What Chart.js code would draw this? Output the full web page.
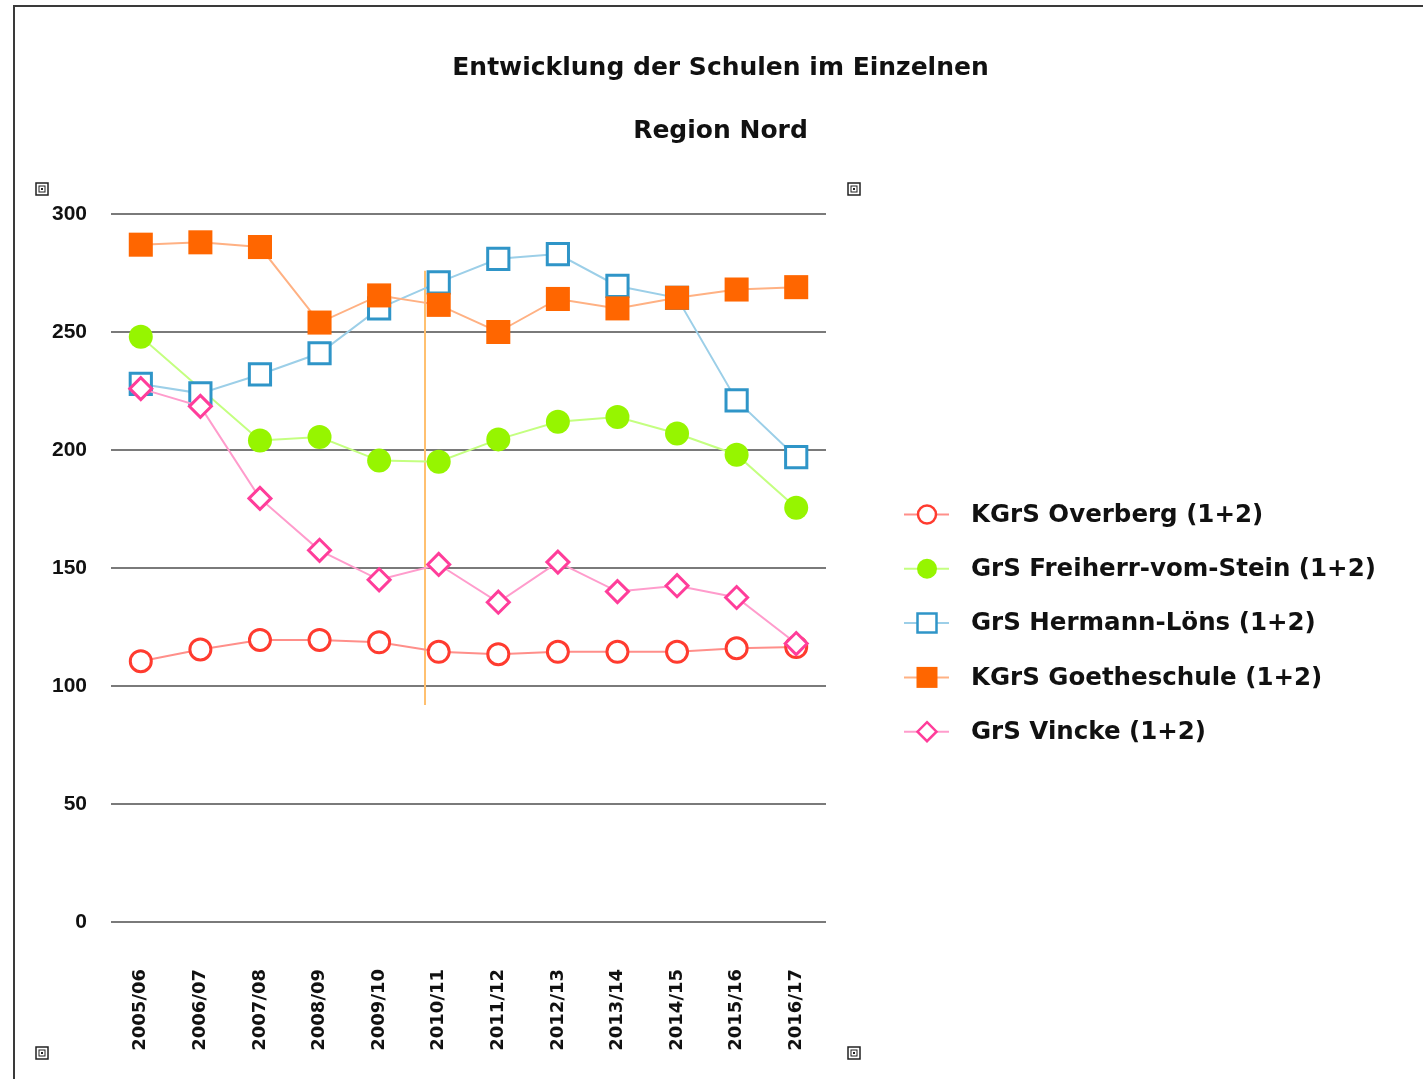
<!DOCTYPE html>
<html lang="de">
<head>
<meta charset="utf-8">
<title>Entwicklung der Schulen im Einzelnen</title>
<script src="https://cdn.jsdelivr.net/npm/chart.js@4.4.1/dist/chart.umd.min.js"></script>
<style>
  html, body { margin: 0; padding: 0; background: #fff; }
  body { width: 1423px; height: 1079px; position: relative; overflow: hidden; }
  .frame { position: absolute; left: 13px; top: 5px; width: 1500px; height: 1200px; border: 2px solid #3a3a3a; }
  .wrap { position: absolute; left: 0; top: 0; width: 1423px; height: 1079px; }
</style>
</head>
<body>
<div class="frame"></div>
<div class="wrap"><canvas id="chart"></canvas></div>
<script>
const chartTitle = "Entwicklung der Schulen im Einzelnen";
const chartSubtitle = "Region Nord";

const schoolYears = ["2005/06", "2006/07", "2007/08", "2008/09", "2009/10", "2010/11",
  "2011/12", "2012/13", "2013/14", "2014/15", "2015/16", "2016/17"];

const seriesNames = ["KGrS Overberg (1+2)", "GrS Freiherr-vom-Stein (1+2)",
  "GrS Hermann-Löns (1+2)", "KGrS Goetheschule (1+2)", "GrS Vincke (1+2)"];

const overberg = [110.5, 115.5, 119.5, 119.5, 118.5, 114.5, 113.5, 114.5, 114.5, 114.5, 116, 116.5];
// 2006/07 is not visible in the picture, the line runs straight over it
const freiherrVomStein = [248, null, 204, 205.5, 195.5, 195, 204.5, 212, 214, 207, 198, 175.5];
const hermannLoens = [228, 224, 232, 241, 260, 271, 281, 283, 269.5, 264.5, 221, 197];
const goetheschule = [287, 288, 286, 254, 265.5, 261.5, 250, 264, 260, 264.5, 268, 269];
const vincke = [226, 218.5, 179.5, 157.5, 145, 151.5, 135.5, 152.5, 140, 142.5, 137.5, 118];

const yMin = 0;
const yMax = 300;
const yStep = 50;

// orange cursor line between 2009/10 and 2010/11 (category index, value range)
const cursorLine = { at: 4.77, from: 276, to: 92 };

const tickFont = { family: "'Liberation Sans', Arial, sans-serif", size: 21, weight: "bold" };
const textFont = { family: "'DejaVu Sans', sans-serif", weight: "bold" };

const datasets = [
  { label: seriesNames[0], data: overberg, order: 4,
    borderColor: "#ff8f8a", backgroundColor: "#ffffff",
    pointStyle: "circle", pointRadius: 10.5, pointBorderWidth: 3,
    pointBorderColor: "#ff3b2f", pointBackgroundColor: "#ffffff" },
  { label: seriesNames[1], data: freiherrVomStein, order: 3, spanGaps: true,
    borderColor: "#c4ff80", backgroundColor: "#96f500",
    pointStyle: "circle", pointRadius: 12, pointBorderWidth: 0,
    pointBorderColor: "#96f500", pointBackgroundColor: "#96f500" },
  { label: seriesNames[2], data: hermannLoens, order: 2,
    borderColor: "#9ccfe8", backgroundColor: "#ffffff",
    pointStyle: "rect", pointRadius: 15, pointBorderWidth: 3,
    pointBorderColor: "#2f95c8", pointBackgroundColor: "#ffffff" },
  { label: seriesNames[3], data: goetheschule, order: 1,
    borderColor: "#ffb183", backgroundColor: "#ff6600",
    pointStyle: "rect", pointRadius: 17, pointBorderWidth: 0,
    pointBorderColor: "#ff6600", pointBackgroundColor: "#ff6600" },
  { label: seriesNames[4], data: vincke, order: 0,
    borderColor: "#ff9ccc", backgroundColor: "#ffffff",
    pointStyle: "rectRot", pointRadius: 11, pointBorderWidth: 3,
    pointBorderColor: "#ff3d9a", pointBackgroundColor: "#ffffff" },
];

function drawMarker(ctx, style, x, y, r, fill, stroke, lw) {
  ctx.beginPath();
  if (style === "circle") {
    ctx.arc(x, y, r, 0, Math.PI * 2);
  } else if (style === "rect") {
    ctx.rect(x - r, y - r, 2 * r, 2 * r);
  } else {
    ctx.moveTo(x, y - r);
    ctx.lineTo(x + r, y);
    ctx.lineTo(x, y + r);
    ctx.lineTo(x - r, y);
    ctx.closePath();
  }
  ctx.fillStyle = fill;
  ctx.fill();
  if (lw) {
    ctx.lineWidth = lw;
    ctx.strokeStyle = stroke;
    ctx.stroke();
  }
}

//legend with line + marker like the original, plus cursor line and the frame handles
const decorPlugin = {
  id: "decor",
  beforeDatasetsDraw(chart) {
    const { ctx, scales: { x, y } } = chart;
    const px = x.getPixelForValue(cursorLine.at);
    ctx.save();
    ctx.strokeStyle = "#ffc070";
    ctx.lineWidth = 2;
    ctx.beginPath();
    ctx.moveTo(px, y.getPixelForValue(cursorLine.from));
    ctx.lineTo(px, y.getPixelForValue(cursorLine.to));
    ctx.stroke();
    ctx.restore();
  },
  afterDraw(chart) {
    const ctx = chart.ctx;
    const legendSizes = [9, 10, 9.5, 10.5, 9.5];
    ctx.save();
    chart.data.datasets.forEach((ds, i) => {
      const cy = 514.5 + i * 54.3;
      ctx.strokeStyle = ds.borderColor;
      ctx.lineWidth = 2;
      ctx.beginPath();
      ctx.moveTo(904, cy);
      ctx.lineTo(949, cy);
      ctx.stroke();
      drawMarker(ctx, ds.pointStyle, 927, cy, legendSizes[i],
        ds.pointBackgroundColor, ds.pointBorderColor, ds.pointBorderWidth ? 2.5 : 0);
      ctx.fillStyle = "#111";
      ctx.font = "bold 24.5px 'DejaVu Sans', sans-serif";
      ctx.textAlign = "left";
      ctx.textBaseline = "middle";
      ctx.fillText(ds.label, 971, cy + 1);
    });
    [[42, 189], [854, 189], [42, 1053], [854, 1053]].forEach(([hx, hy]) => {
      ctx.strokeStyle = "#222";
      ctx.lineWidth = 1.5;
      ctx.strokeRect(hx - 6, hy - 6, 12, 12);
      ctx.lineWidth = 1;
      ctx.strokeRect(hx - 3, hy - 3, 6, 6);
      ctx.fillStyle = "#222";
      ctx.fillRect(hx - 1, hy - 1, 2, 2);
    });
    ctx.restore();
  },
};

const canvas = document.querySelector("#chart");
new Chart(canvas, {
  type: "line",
  data: {
    labels: schoolYears,
    datasets: datasets.map((ds) => ({ ...ds, borderWidth: 2, tension: 0, fill: false })),
  },
  options: {
    responsive: true,
    maintainAspectRatio: false,
    animation: false,
    layout: { padding: { left: 18, right: 0, top: 0, bottom: 0 } },
    plugins: {
      legend: { display: false },
      tooltip: { enabled: false },
      title: {
        display: true,
        text: chartTitle,
        color: "#111",
        font: { ...textFont, size: 25 },
        padding: { top: 53, bottom: 33 },
      },
      subtitle: {
        display: true,
        text: chartSubtitle,
        color: "#111",
        font: { ...textFont, size: 25 },
        padding: { top: 0, bottom: 68 },
      },
    },
    scales: {
      x: {
        offset: true,
        grid: { display: false },
        border: { display: false },
        ticks: {
          minRotation: 90,
          maxRotation: 90,
          autoSkip: false,
          padding: 39,
          color: "#111",
          font: { ...textFont, size: 18 },
        },
        afterFit(scale) {
          scale.height = 157;
        },
      },
      y: {
        min: yMin,
        max: yMax,
        ticks: { stepSize: yStep, padding: 24, color: "#111", font: tickFont },
        grid: { color: "#7a7a7a", lineWidth: 2, drawTicks: false },
        border: { display: false },
        afterFit(scale) {
          scale.width = 93;
        },
      },
      // empty right axis only reserves the room where the legend is drawn
      legendSpace: {
        type: "linear",
        position: "right",
        grid: { display: false },
        border: { display: false },
        ticks: { display: false },
        afterFit(scale) {
          scale.width = 597;
        },
      },
    },
  },
  plugins: [decorPlugin],
});
</script>
</body>
</html>
